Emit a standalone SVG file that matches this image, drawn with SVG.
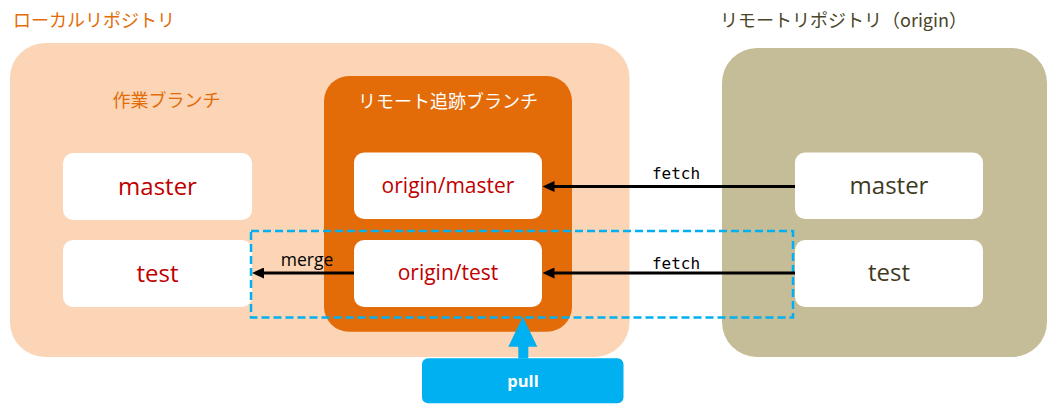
<svg xmlns="http://www.w3.org/2000/svg" width="1064" height="413" viewBox="0 0 1064 413">
  <defs>
    <style>
      .title { font-family: "Noto Sans CJK JP", sans-serif; font-size: 18px; }
      .node { fill: #FFFFFF; }
      .lbl-local { font-family: "Open Sans", "Noto Sans", sans-serif; font-size: 24px; fill: #C00000; text-anchor: middle; }
      .lbl-origin { font-family: "Open Sans", "Noto Sans", sans-serif; font-size: 21px; fill: #C00000; text-anchor: middle; }
      .lbl-remote { font-family: "Open Sans", "Noto Sans", sans-serif; font-size: 24px; fill: #3F3A1E; text-anchor: middle; }
      .conn { stroke: #000000; stroke-width: 3; fill: none; marker-end: url(#arrow); }
      .conn-lbl-fetch { font-family: "DejaVu Sans Mono", monospace; font-size: 16px; fill: #000000; text-anchor: middle; }
      .conn-lbl-merge { font-family: "Open Sans", "Noto Sans", sans-serif; font-size: 17.5px; fill: #000000; text-anchor: middle; }
    </style>
    <marker id="arrow" markerUnits="userSpaceOnUse" markerWidth="12" markerHeight="11" refX="2" refY="5.5" orient="auto">
      <path d="M0,0 L12,5.5 L0,11 z" fill="#000000"/>
    </marker>
  </defs>

  <!-- titles -->
  <text class="title" x="13" y="27" fill="#E36C09">ローカルリポジトリ</text>
  <text class="title" x="720" y="27" fill="#494529">リモートリポジトリ（origin）</text>

  <!-- local repository container -->
  <g id="local-repo">
    <rect x="10" y="43" width="619.5" height="314" rx="35" fill="#FBD5B5"/>
    <text class="title" x="166.5" y="107" fill="#E36C09" text-anchor="middle">作業ブランチ</text>
  </g>

  <!-- remote tracking branch container -->
  <g id="remote-tracking">
    <rect x="324" y="76" width="248" height="255.7" rx="25" fill="#E36C09"/>
    <text class="title" x="448" y="108" fill="#FFFFFF" text-anchor="middle">リモート追跡ブランチ</text>
  </g>

  <!-- remote repository container -->
  <g id="remote-repo">
    <rect x="722" y="48" width="325" height="309" rx="35" fill="#C4BD97"/>
  </g>

  <!-- local nodes -->
  <g id="local-master">
    <rect class="node" x="63" y="153" width="189" height="67" rx="10"/>
    <text class="lbl-local" x="157.5" y="195">master</text>
  </g>
  <g id="local-test">
    <rect class="node" x="63" y="240" width="189" height="67" rx="10"/>
    <text class="lbl-local" x="157.5" y="282">test</text>
  </g>

  <!-- remote tracking nodes -->
  <g id="origin-master">
    <rect class="node" x="354" y="152.5" width="188" height="66.5" rx="10"/>
    <text class="lbl-origin" x="448" y="193">origin/master</text>
  </g>
  <g id="origin-test">
    <rect class="node" x="354" y="240" width="188" height="67" rx="10"/>
    <text class="lbl-origin" x="448" y="280">origin/test</text>
  </g>

  <!-- remote nodes -->
  <g id="remote-master">
    <rect class="node" x="795" y="152.5" width="188" height="66.5" rx="10"/>
    <text class="lbl-remote" x="889" y="194">master</text>
  </g>
  <g id="remote-test">
    <rect class="node" x="795" y="240" width="188" height="67" rx="10"/>
    <text class="lbl-remote" x="889" y="281">test</text>
  </g>

  <!-- pull scope (dashed) -->
  <g id="pull-scope">
    <rect x="251" y="231" width="542" height="86.5" fill="none" stroke="#00B0F0" stroke-width="2.5" stroke-dasharray="8 4"/>
  </g>

  <!-- connectors -->
  <g id="connectors">
    <path class="conn" d="M795,186.5 H552.5"/>
    <text class="conn-lbl-fetch" x="676" y="179">fetch</text>
    <path class="conn" d="M795,273 H552.5"/>
    <text class="conn-lbl-fetch" x="676" y="269">fetch</text>
    <path class="conn" d="M354,273 H262"/>
    <text class="conn-lbl-merge" x="307" y="266">merge</text>
    <path d="M518.3,358.5 V346.7 H508.3 L522.8,316.7 L537.3,346.7 H528.3 V358.5 z" fill="#00B0F0"/>
  </g>

  <!-- pull button -->
  <g id="pull">
    <rect x="422" y="358.3" width="201.5" height="45" rx="6" fill="#00B0F0"/>
    <text x="523" y="387" font-family="Open Sans, Noto Sans, sans-serif" font-size="16.5" font-weight="bold" fill="#FFFFFF" text-anchor="middle">pull</text>
  </g>
</svg>
